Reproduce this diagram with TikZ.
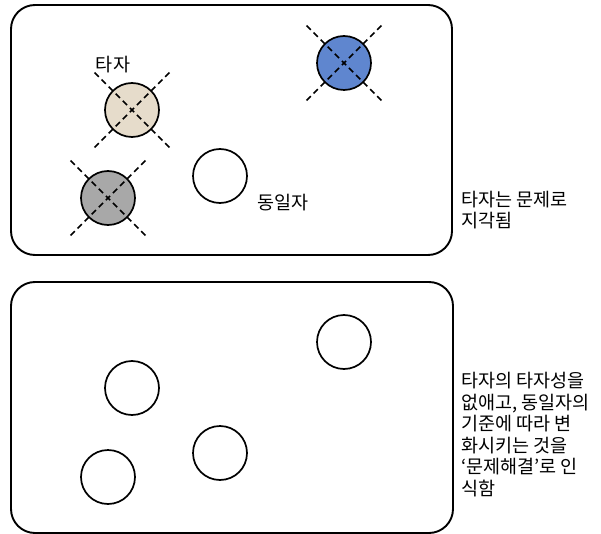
\documentclass[tikz,border=0pt]{standalone}
\usepackage{fontspec}
\usetikzlibrary{calc}
\newfontfamily\kr{Noto Sans CJK KR}
\definecolor{beige}{HTML}{E6DCCB}
\definecolor{bluish}{HTML}{5F86CF}
\definecolor{grayish}{HTML}{A8A8A8}
\tikzset{
  panel/.style={draw, line width=1.9pt, rounded corners=24pt},
  ent/.style={circle, draw, line width=1.7pt, minimum size=54pt, inner sep=0pt},
  xline/.style={line width=1.7pt, dash pattern=on 6pt off 4pt, dash phase=9.25pt},
  lbl/.style={font=\kr\fontsize{18.5}{21.5}\selectfont, inner sep=0pt, align=left},
}
\begin{document}
\begin{tikzpicture}[x=1pt,y=-1pt]
\useasboundingbox (0,0) rectangle (601,534);
\draw[panel] (11,5) rectangle (452,255);
\draw[panel] (11,282) rectangle (453,533);
% top panel
\node[ent, fill=beige] (a) at (132,110) {};
\node[ent, fill=bluish] (b) at (344,63) {};
\node[ent, fill=grayish] (c) at (108,198) {};
\node[ent] (d) at (220,176) {};
\foreach \n in {a,b,c}{
  \draw[xline] ($(\n)+(-38,-38)$) -- ($(\n)+(38,38)$);
  \draw[xline] ($(\n)+(38,-38)$) -- ($(\n)+(-38,38)$);
}
\node[lbl] (la) at (113,65) {타자};
\node[lbl] (ld) at (283,203) {동일자};
\node[lbl, anchor=north west] (t1) at (461,191) {타자는 문제로\\지각됨};
% bottom panel
\node[ent] (e) at (344,342) {};
\node[ent] (f) at (132,388) {};
\node[ent] (g) at (220,453) {};
\node[ent] (h) at (108,477) {};
\node[lbl, anchor=north west] (t2) at (461,372) {타자의 타자성을\\없애고, 동일자의\\기준에 따라 변\\화시키는 것을\\‘문제해결’로 인\\식함};
\end{tikzpicture}
\end{document}
